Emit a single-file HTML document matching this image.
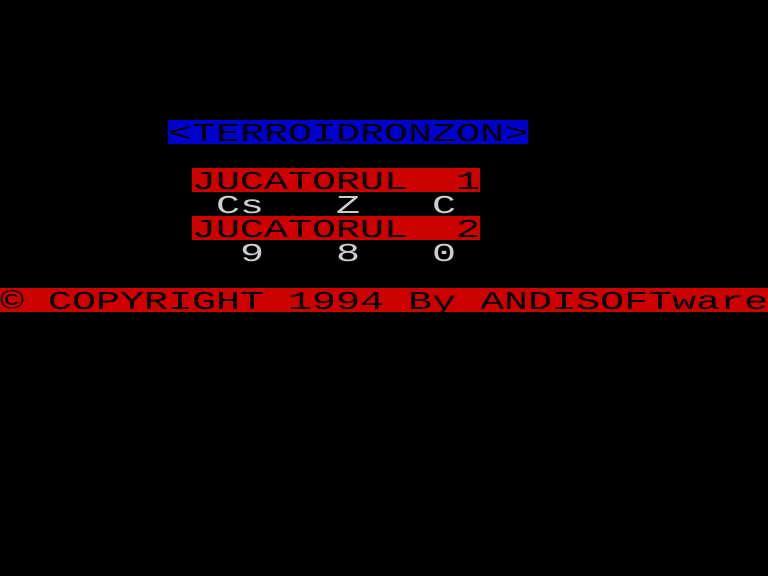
<!DOCTYPE html>
<html><head><meta charset="utf-8"><style>
html,body{margin:0;padding:0;background:#000;width:768px;height:576px;overflow:hidden}
.bar{position:absolute;height:24px}
.t{position:absolute;height:24px;line-height:24px;font-family:"Liberation Mono",monospace;font-size:26px;white-space:pre;transform-origin:0 0;transform:scaleX(1.5385);margin-top:2px}
.k{color:#000}.g{color:#cdcdcd}
</style></head><body>
<div class="bar" style="left:168px;top:120px;width:360px;background:#0000cd"></div>
<div class="t k" style="left:168px;top:120px">&lt;TERROIDRONZON&gt;</div>
<div class="bar" style="left:192px;top:168px;width:288px;background:#cd0000"></div>
<div class="t k" style="left:192px;top:168px">JUCATORUL  1</div>
<div class="t g" style="left:216px;top:192px">Cs   Z   C</div>
<div class="bar" style="left:192px;top:216px;width:288px;background:#cd0000"></div>
<div class="t k" style="left:192px;top:216px">JUCATORUL  2</div>
<div class="t g" style="left:240px;top:240px">9   8   0</div>
<div class="bar" style="left:0;top:288px;width:768px;background:#cd0000"></div>
<div class="t k" style="left:0;top:288px">© COPYRIGHT 1994 By ANDISOFTware</div>
</body></html>
